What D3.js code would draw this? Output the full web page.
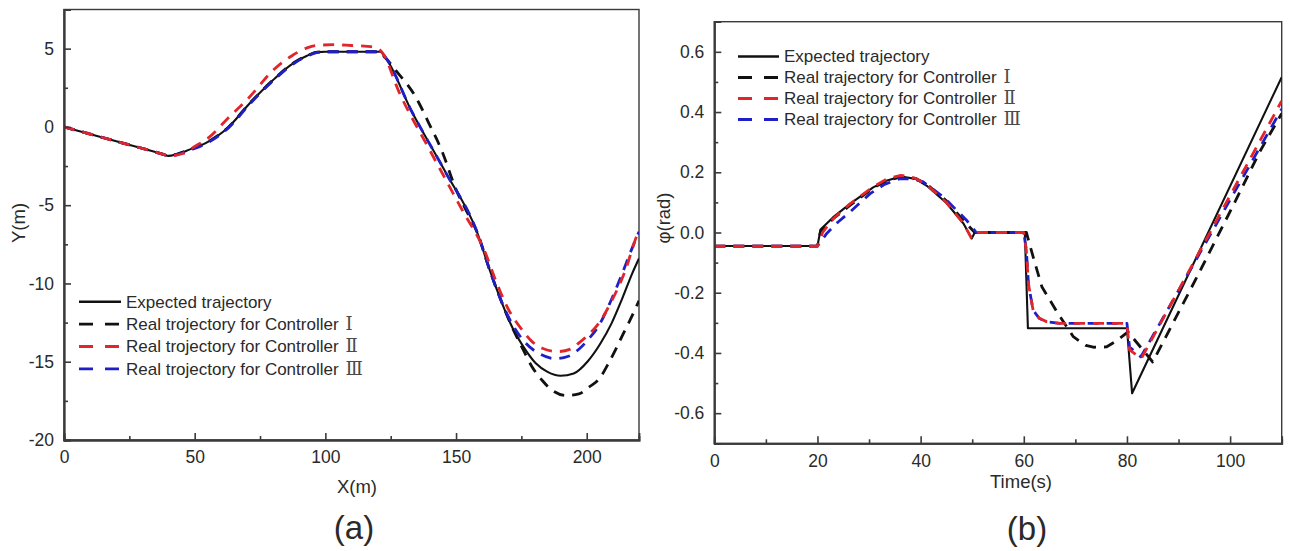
<!DOCTYPE html>
<html>
<head>
<meta charset="utf-8">
<script src="https://cdn.jsdelivr.net/npm/d3@7/dist/d3.min.js"></script>
<style>
  html, body { margin: 0; padding: 0; background: #fff; }
  svg { display: block; }
  text { font-family: "Liberation Sans", Arial, sans-serif; fill: #2a2a2a; }
</style>
</head>
<body>
<svg id="chart" width="1290" height="551"></svg>
<script>
// ---------------- Panel (a): X-Y trajectory ----------------
const aExpectedX = [0, 20, 38, 40, 43, 48, 54, 63, 71, 80, 87.5, 93, 97, 100, 121, 122.5, 133, 146, 158, 163, 167, 171.5, 176, 180.5, 185, 190, 195, 200.5, 205, 209.5, 213.5, 217.3, 220];
const aExpectedY = [0, -0.92, -1.75, -1.85, -1.75, -1.45, -1.05, 0, 1.5, 3.0, 4.05, 4.55, 4.78, 4.8, 4.8, 4.55, 1.0, -2.9, -6.7, -9.2, -11.0, -12.8, -14.1, -15.1, -15.65, -15.9, -15.75, -14.95, -13.9, -12.55, -11.0, -9.4, -8.4];

const aCtrl1X = [0, 20, 38, 40, 43, 48, 54, 63, 71, 80, 87.5, 93, 97, 100, 120, 123, 127, 134.6, 139.7, 144.5, 150, 155, 158, 163, 167, 171.5, 175, 179, 183, 187, 192, 197, 201, 205, 208, 211, 214, 216.7, 220];
const aCtrl1Y = [0, -0.92, -1.75, -1.85, -1.75, -1.45, -1.05, 0, 1.5, 3.0, 4.05, 4.55, 4.78, 4.8, 4.8, 4.4, 3.6, 1.9, 0.2, -1.5, -4.0, -5.7, -6.7, -9.2, -11.0, -12.8, -14.0, -15.3, -16.2, -16.85, -17.15, -17.05, -16.6, -16.05, -15.2, -14.25, -13.2, -12.3, -11.1];

const aCtrl2X = [0, 20, 38, 40, 45.5, 50, 55.7, 62, 71, 80, 87.5, 93, 96.5, 103, 110, 116, 119.5, 122, 128, 140, 152, 161.3, 165.1, 170.2, 175.3, 179, 183, 189, 194.4, 197, 200.5, 204.6, 209.7, 214.8, 218.6, 220];
const aCtrl2Y = [0, -0.92, -1.75, -1.85, -1.7, -1.25, -0.64, 0.43, 1.91, 3.62, 4.58, 5.05, 5.2, 5.25, 5.2, 5.15, 5.05, 4.7, 2.3, -1.5, -5.2, -8.08, -9.78, -11.7, -12.97, -13.7, -14.14, -14.35, -14.15, -13.8, -13.3, -12.55, -11.06, -9.15, -7.2, -6.6];

const aCtrl3X = [0, 20, 38, 40, 43, 48, 54, 63, 71, 80, 87.5, 93, 97, 100, 121, 122.5, 133, 146, 158, 163, 167, 171.5, 176.6, 182, 188, 193, 197, 201, 204.6, 209, 213.5, 216.5, 220];
const aCtrl3Y = [0, -0.92, -1.75, -1.85, -1.78, -1.5, -1.1, -0.05, 1.45, 2.95, 4.0, 4.52, 4.76, 4.8, 4.8, 4.55, 1.0, -2.9, -6.7, -9.2, -11.0, -12.6, -13.8, -14.5, -14.8, -14.65, -14.2, -13.5, -12.7, -11.2, -9.4, -8.1, -6.7];

const aXTicks = [0, 50, 100, 150, 200];
const aXMinor = [25, 75, 125, 175];
const aYTicks = [-20, -15, -10, -5, 0, 5];
const aYMinor = [-17.5, -12.5, -7.5, -2.5, 2.5];
const aXLabel = "X(m)";
const aYLabel = "Y(m)";
const aPanel = "(a)";

// ---------------- Panel (b): heading angle vs time ----------------
const bExpectedT = [0, 20, 20.6, 23, 26.3, 30.8, 33.5, 36.2, 39, 41.2, 45, 48.3, 49.9, 50.5, 60.2, 60.8, 80, 81, 110];
const bExpectedP = [-0.045, -0.045, 0.01, 0.05, 0.095, 0.15, 0.173, 0.186, 0.178, 0.155, 0.098, 0.03, -0.02, 0.0, 0.0, -0.318, -0.318, -0.534, 0.516];

const bCtrl1T = [0, 20, 20.6, 23, 26.3, 30.8, 33.5, 36.2, 39, 41.2, 45, 48.3, 50.5, 60.5, 61.8, 63.5, 66.3, 69.6, 72, 73.5, 76, 78, 80.2, 85, 93.5, 100.6, 105.8, 110];
const bCtrl1P = [-0.045, -0.045, 0.005, 0.045, 0.09, 0.148, 0.172, 0.185, 0.18, 0.16, 0.105, 0.04, 0.0, 0.0, -0.08, -0.18, -0.26, -0.346, -0.375, -0.381, -0.38, -0.36, -0.33, -0.43, -0.15, 0.09, 0.27, 0.395];

const bCtrl2T = [0, 20, 21, 23, 26.3, 30.8, 33.5, 36.2, 39, 41.2, 45, 48.3, 49.9, 51, 60, 60.5, 60.9, 61.8, 63, 64.4, 67, 80, 80.5, 82.8, 110];
const bCtrl2P = [-0.045, -0.045, 0.0, 0.045, 0.095, 0.152, 0.178, 0.19, 0.18, 0.158, 0.1, 0.03, -0.02, 0.0, 0.0, -0.06, -0.17, -0.258, -0.285, -0.296, -0.302, -0.302, -0.39, -0.418, 0.437];

const bCtrl3T = [0, 20, 21.8, 24, 26.3, 30.2, 33, 36, 38.5, 40.5, 44.4, 48.9, 50.8, 60, 60.5, 60.9, 61.8, 63, 64.4, 67, 80, 80.5, 82.7, 110];
const bCtrl3P = [-0.045, -0.045, -0.003, 0.035, 0.068, 0.129, 0.16, 0.179, 0.178, 0.168, 0.118, 0.041, 0.0, 0.0, -0.06, -0.17, -0.258, -0.285, -0.296, -0.302, -0.302, -0.38, -0.413, 0.41];

const bXTicks = [0, 20, 40, 60, 80, 100];
const bXMinor = [10, 30, 50, 70, 90];
const bYTicks = [-0.6, -0.4, -0.2, 0.0, 0.2, 0.4, 0.6];
const bYMinor = [-0.5, -0.3, -0.1, 0.1, 0.3, 0.5];
const bXLabel = "Time(s)";
const bYLabel = "φ(rad)";
const bPanel = "(b)";

// ---------------- Legends ----------------
const aLegendNames = ["Expected trajectory", "Real trojectory for Controller", "Real trojectory for Controller", "Real trojectory for Controller"];
const bLegendNames = ["Expected trajectory", "Real trajectory for Controller", "Real trajectory for Controller", "Real trajectory for Controller"];
const legendNumerals = ["", "Ⅰ", "Ⅱ", "Ⅲ"];
const seriesColors = ["#111111", "#111111", "#e0262b", "#1f1fc8"];
const seriesDashed = [false, true, true, true];

const svg = d3.select("#chart");

function zip(xs, ys) { return xs.map((x, i) => [x, ys[i]]); }

function drawPanel(cfg) {
  const x = d3.scaleLinear().domain(cfg.xDomain).range([cfg.left, cfg.right]);
  const y = d3.scaleLinear().domain(cfg.yDomain).range([cfg.bottom, cfg.top]);
  const g = svg.append("g");
  const clipId = "clip" + cfg.id;
  svg.append("clipPath").attr("id", clipId).append("rect")
    .attr("x", cfg.left).attr("y", cfg.top)
    .attr("width", cfg.right - cfg.left).attr("height", cfg.bottom - cfg.top);

  // frame
  g.append("rect").attr("x", cfg.left).attr("y", cfg.top)
    .attr("width", cfg.right - cfg.left).attr("height", cfg.bottom - cfg.top)
    .attr("fill", "none").attr("stroke", "#3a3a3a").attr("stroke-width", 1.4);

  // lines
  const line = d3.line().x(d => x(d[0])).y(d => y(d[1])).curve(cfg.curve);
  const lg = g.append("g").attr("clip-path", `url(#${clipId})`);
  const order = [0, 1, 3, 2];
  order.forEach(i => {
    lg.append("path").datum(cfg.series[i])
      .attr("d", line)
      .attr("fill", "none")
      .attr("stroke", seriesColors[i])
      .attr("stroke-width", seriesDashed[i] ? 2.8 : 2.1)
      .attr("stroke-dasharray", seriesDashed[i] ? "11,8" : null)
      .attr("stroke-linejoin", "round");
  });

  // axes
  const fs = "17.5px";
  const xAxis = g.append("g").attr("transform", `translate(0,${cfg.bottom})`)
    .call(d3.axisBottom(x).tickValues(cfg.xTicks).tickSize(-7).tickPadding(11)
      .tickFormat(cfg.xFmt));
  const xMinor = g.append("g").attr("transform", `translate(0,${cfg.bottom})`)
    .call(d3.axisBottom(x).tickValues(cfg.xMinor).tickSize(-4).tickFormat(""));
  const yAxis = g.append("g").attr("transform", `translate(${cfg.left},0)`)
    .call(d3.axisLeft(y).tickValues(cfg.yTicks).tickSize(-7).tickPadding(10)
      .tickFormat(cfg.yFmt));
  const yMinor = g.append("g").attr("transform", `translate(${cfg.left},0)`)
    .call(d3.axisLeft(y).tickValues(cfg.yMinor).tickSize(-4).tickFormat(""));
  [xAxis, xMinor, yAxis, yMinor].forEach(ax => {
    ax.select(".domain").attr("stroke", "#3a3a3a").attr("stroke-width", 1.8);
    ax.selectAll(".tick line").attr("stroke", "#3a3a3a").attr("stroke-width", 1.6);
    ax.selectAll(".tick text").attr("font-size", fs).attr("fill", "#2a2a2a")
      .attr("font-family", "Liberation Sans, Arial, sans-serif");
  });

  // axis titles
  g.append("text").attr("x", cfg.xLabelPos[0]).attr("y", cfg.xLabelPos[1])
    .attr("text-anchor", "middle").attr("dy", "0.35em").attr("font-size", "18.5px").text(cfg.xLabel);
  g.append("text").attr("transform", `translate(${cfg.yLabelPos[0]},${cfg.yLabelPos[1]}) rotate(-90)`)
    .attr("text-anchor", "middle").attr("dy", "0.35em").attr("font-size", "18.5px").text(cfg.yLabel);
  g.append("text").attr("x", cfg.panelPos[0]).attr("y", cfg.panelPos[1])
    .attr("text-anchor", "middle").attr("dy", "0.35em").attr("font-size", "33px").attr("fill", "#222").text(cfg.panel);

  // legend
  const leg = g.append("g");
  cfg.legendNames.forEach((name, i) => {
    const yy = cfg.legend.y0 + i * cfg.legend.dy;
    leg.append("line").attr("x1", cfg.legend.x0).attr("x2", cfg.legend.x1)
      .attr("y1", yy).attr("y2", yy)
      .attr("stroke", seriesColors[i])
      .attr("stroke-width", seriesDashed[i] ? 2.8 : 2.4)
      .attr("stroke-dasharray", seriesDashed[i] ? "14,12" : null);
    const t = leg.append("text").attr("x", cfg.legend.tx).attr("y", yy)
      .attr("dy", "0.35em").attr("font-size", "17px").text(name);
    if (legendNumerals[i]) {
      t.append("tspan").attr("dx", 7)
        .attr("font-family", "Liberation Serif, DejaVu Serif, serif")
        .attr("font-size", "18px").attr("fill", "#4a4a4a")
        .text(legendNumerals[i]);
    }
  });
}

drawPanel({
  id: "a",
  xDomain: [0, 220], yDomain: [-20, 7.5],
  left: 64, right: 639, top: 9.5, bottom: 440,
  curve: d3.curveMonotoneX,
  series: [zip(aExpectedX, aExpectedY), zip(aCtrl1X, aCtrl1Y), zip(aCtrl2X, aCtrl2Y), zip(aCtrl3X, aCtrl3Y)],
  xTicks: aXTicks, xMinor: aXMinor, yTicks: aYTicks, yMinor: aYMinor,
  xFmt: d => String(d), yFmt: d => String(d),
  xLabel: aXLabel, yLabel: aYLabel, panel: aPanel,
  xLabelPos: [357, 487], yLabelPos: [19, 223], panelPos: [354, 527],
  legendNames: aLegendNames,
  legend: { x0: 79, x1: 121, tx: 126, y0: 301.7, dy: 22.4 }
});

drawPanel({
  id: "b",
  xDomain: [0, 110], yDomain: [-0.7, 0.7],
  left: 714.3, right: 1281.7, top: 21.7, bottom: 443.3,
  curve: d3.curveLinear,
  series: [zip(bExpectedT, bExpectedP), zip(bCtrl1T, bCtrl1P), zip(bCtrl2T, bCtrl2P), zip(bCtrl3T, bCtrl3P)],
  xTicks: bXTicks, xMinor: bXMinor, yTicks: bYTicks, yMinor: bYMinor,
  xFmt: d => String(d), yFmt: d => (Math.abs(d) < 1e-9 ? 0 : d).toFixed(1),
  xLabel: bXLabel, yLabel: bYLabel, panel: bPanel,
  xLabelPos: [1021, 482], yLabelPos: [664, 218], panelPos: [1027, 528],
  legendNames: bLegendNames,
  legend: { x0: 738, x1: 779, tx: 784, y0: 56.5, dy: 21 }
});
</script>
</body>
</html>
